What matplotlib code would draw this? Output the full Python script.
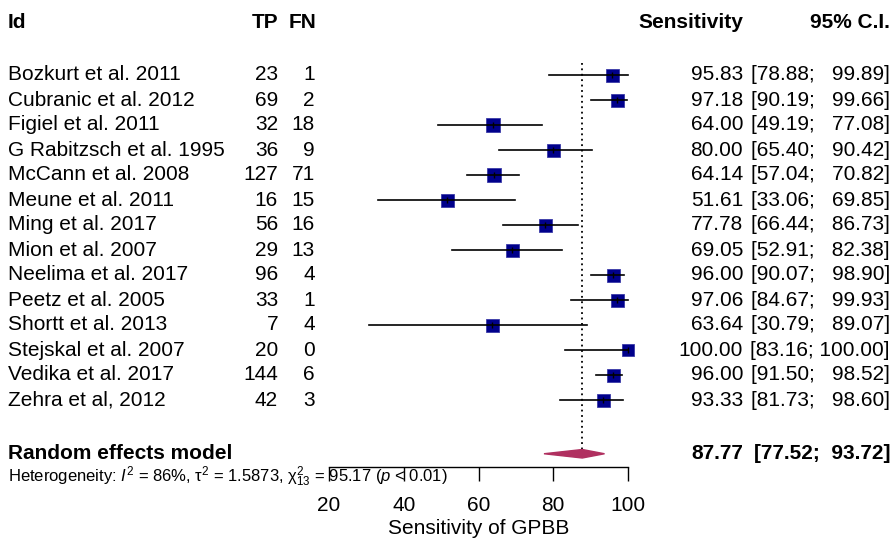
import numpy as np
import matplotlib
matplotlib.use("Agg")
import matplotlib.pyplot as plt
from matplotlib import transforms
from matplotlib.patches import Polygon

plt.rcParams['font.family'] = ['Liberation Sans', 'DejaVu Sans']
plt.rcParams['mathtext.fontset'] = 'custom'
plt.rcParams['mathtext.rm'] = 'Liberation Sans'
plt.rcParams['mathtext.it'] = 'Liberation Sans:italic'

# study data
studies = ["Bozkurt et al. 2011", "Cubranic et al. 2012", "Figiel et al. 2011",
           "G Rabitzsch et al. 1995", "McCann et al. 2008", "Meune et al. 2011",
           "Ming et al. 2017", "Mion et al. 2007", "Neelima et al. 2017",
           "Peetz et al. 2005", "Shortt et al. 2013", "Stejskal et al. 2007",
           "Vedika et al. 2017", "Zehra et al, 2012"]
tp = [23, 69, 32, 36, 127, 16, 56, 29, 96, 33, 7, 20, 144, 42]
fn = [1, 2, 18, 9, 71, 15, 16, 13, 4, 1, 4, 0, 6, 3]
sens = [95.83, 97.18, 64.00, 80.00, 64.14, 51.61, 77.78, 69.05, 96.00, 97.06,
        63.64, 100.00, 96.00, 93.33]
lower = [78.88, 90.19, 49.19, 65.40, 57.04, 33.06, 66.44, 52.91, 90.07, 84.67,
         30.79, 83.16, 91.50, 81.73]
upper = [99.89, 99.66, 77.08, 90.42, 70.82, 69.85, 86.73, 82.38, 98.90, 99.93,
         89.07, 100.00, 98.52, 98.60]
box_px = [13, 13, 13.5, 13, 13.5, 13, 13, 13, 13, 13, 13, 12.5, 13, 13]

pooled = 87.77
pooled_lo = 77.52
pooled_hi = 93.72

W, H = 893, 542
fig = plt.figure(figsize=(W / 100, H / 100), dpi=100)
ax = fig.add_axes([329 / W, 75 / H, 299 / W, 467 / H])
ax.set_xlim(20, 100)
ax.set_ylim(15.68, -3)
for s in ["left", "top", "right"]:
    ax.spines[s].set_visible(False)
ax.spines["bottom"].set_linewidth(1)
ax.set_yticks([])
ax.set_xticks([20, 40, 60, 80, 100])
ax.tick_params(axis="x", direction="out", length=10, width=1, pad=11, labelsize=15)
ax.patch.set_visible(False)

rows = np.arange(len(studies))
re_row = 15.15

# reference line at pooled estimate
ax.plot([pooled, pooled], [-0.5, re_row], color="black", linestyle=(0, (1, 2)),
        linewidth=1.3)

for i in rows:
    ax.plot(sens[i], i, marker="s", markersize=box_px[i] * 0.72,
            color="#00008B", markeredgecolor="#3a3aa8", markeredgewidth=0.6,
            linestyle="none", zorder=3, clip_on=False)
    ax.plot([lower[i], upper[i]], [i, i], color="black", linewidth=1.2, zorder=4,
            clip_on=False)
    ax.plot(sens[i], i, marker="|", markersize=5, color="black",
            markeredgewidth=1, zorder=5, clip_on=False)

# pooled diamond
diamond = Polygon([[pooled_lo, re_row], [pooled, re_row - 0.17],
                   [pooled_hi, re_row], [pooled, re_row + 0.17]],
                  closed=True, facecolor="#B03060", edgecolor="#B03060", zorder=3)
ax.add_patch(diamond)

tr = transforms.blended_transform_factory(fig.transFigure, ax.transData)
fs = 15

def col(xpx, y, s, ha, bold=False, size=fs):
    ax.text(xpx / W, y, s, transform=tr, ha=ha, va="center", fontsize=size,
            fontweight="bold" if bold else "normal", clip_on=False)

hdr = -2.1
col(8, hdr, "Id", "left", True)
col(278, hdr, "TP", "right", True)
col(316, hdr, "FN", "right", True)
col(743, hdr, "Sensitivity", "right", True)
col(890, hdr, "95% C.I.", "right", True)

for i in rows:
    col(8, i, studies[i], "left")
    col(278, i, str(tp[i]), "right")
    col(315, i, str(fn[i]), "right")
    col(743, i, "%.2f" % sens[i], "right")
    lo_s = "%.2f" % lower[i]
    hi_s = "%.2f" % upper[i]
    hi_s = hi_s if len(hi_s) == 6 else "  " + hi_s
    col(890, i, "[" + lo_s + "; " + hi_s + "]", "right")

col(8, re_row, "Random effects model", "left", True)
col(743, re_row, "%.2f" % pooled, "right", True)
col(890, re_row, "[%.2f;  %.2f]" % (pooled_lo, pooled_hi), "right", True)

col(8, 16.08,
    r"Heterogeneity: $\mathit{I}^{2}$ = 86%, τ${}^{2}$ = 1.5873, "
    r"χ${}^{2}_{13}$ = 95.17 ($\mathit{p}$ < 0.01)", "left", size=12)

ax.text(60, 18.16, "Sensitivity of GPBB", ha="center", va="center",
        fontsize=fs, clip_on=False)

fig.savefig("out.png", dpi=100)
